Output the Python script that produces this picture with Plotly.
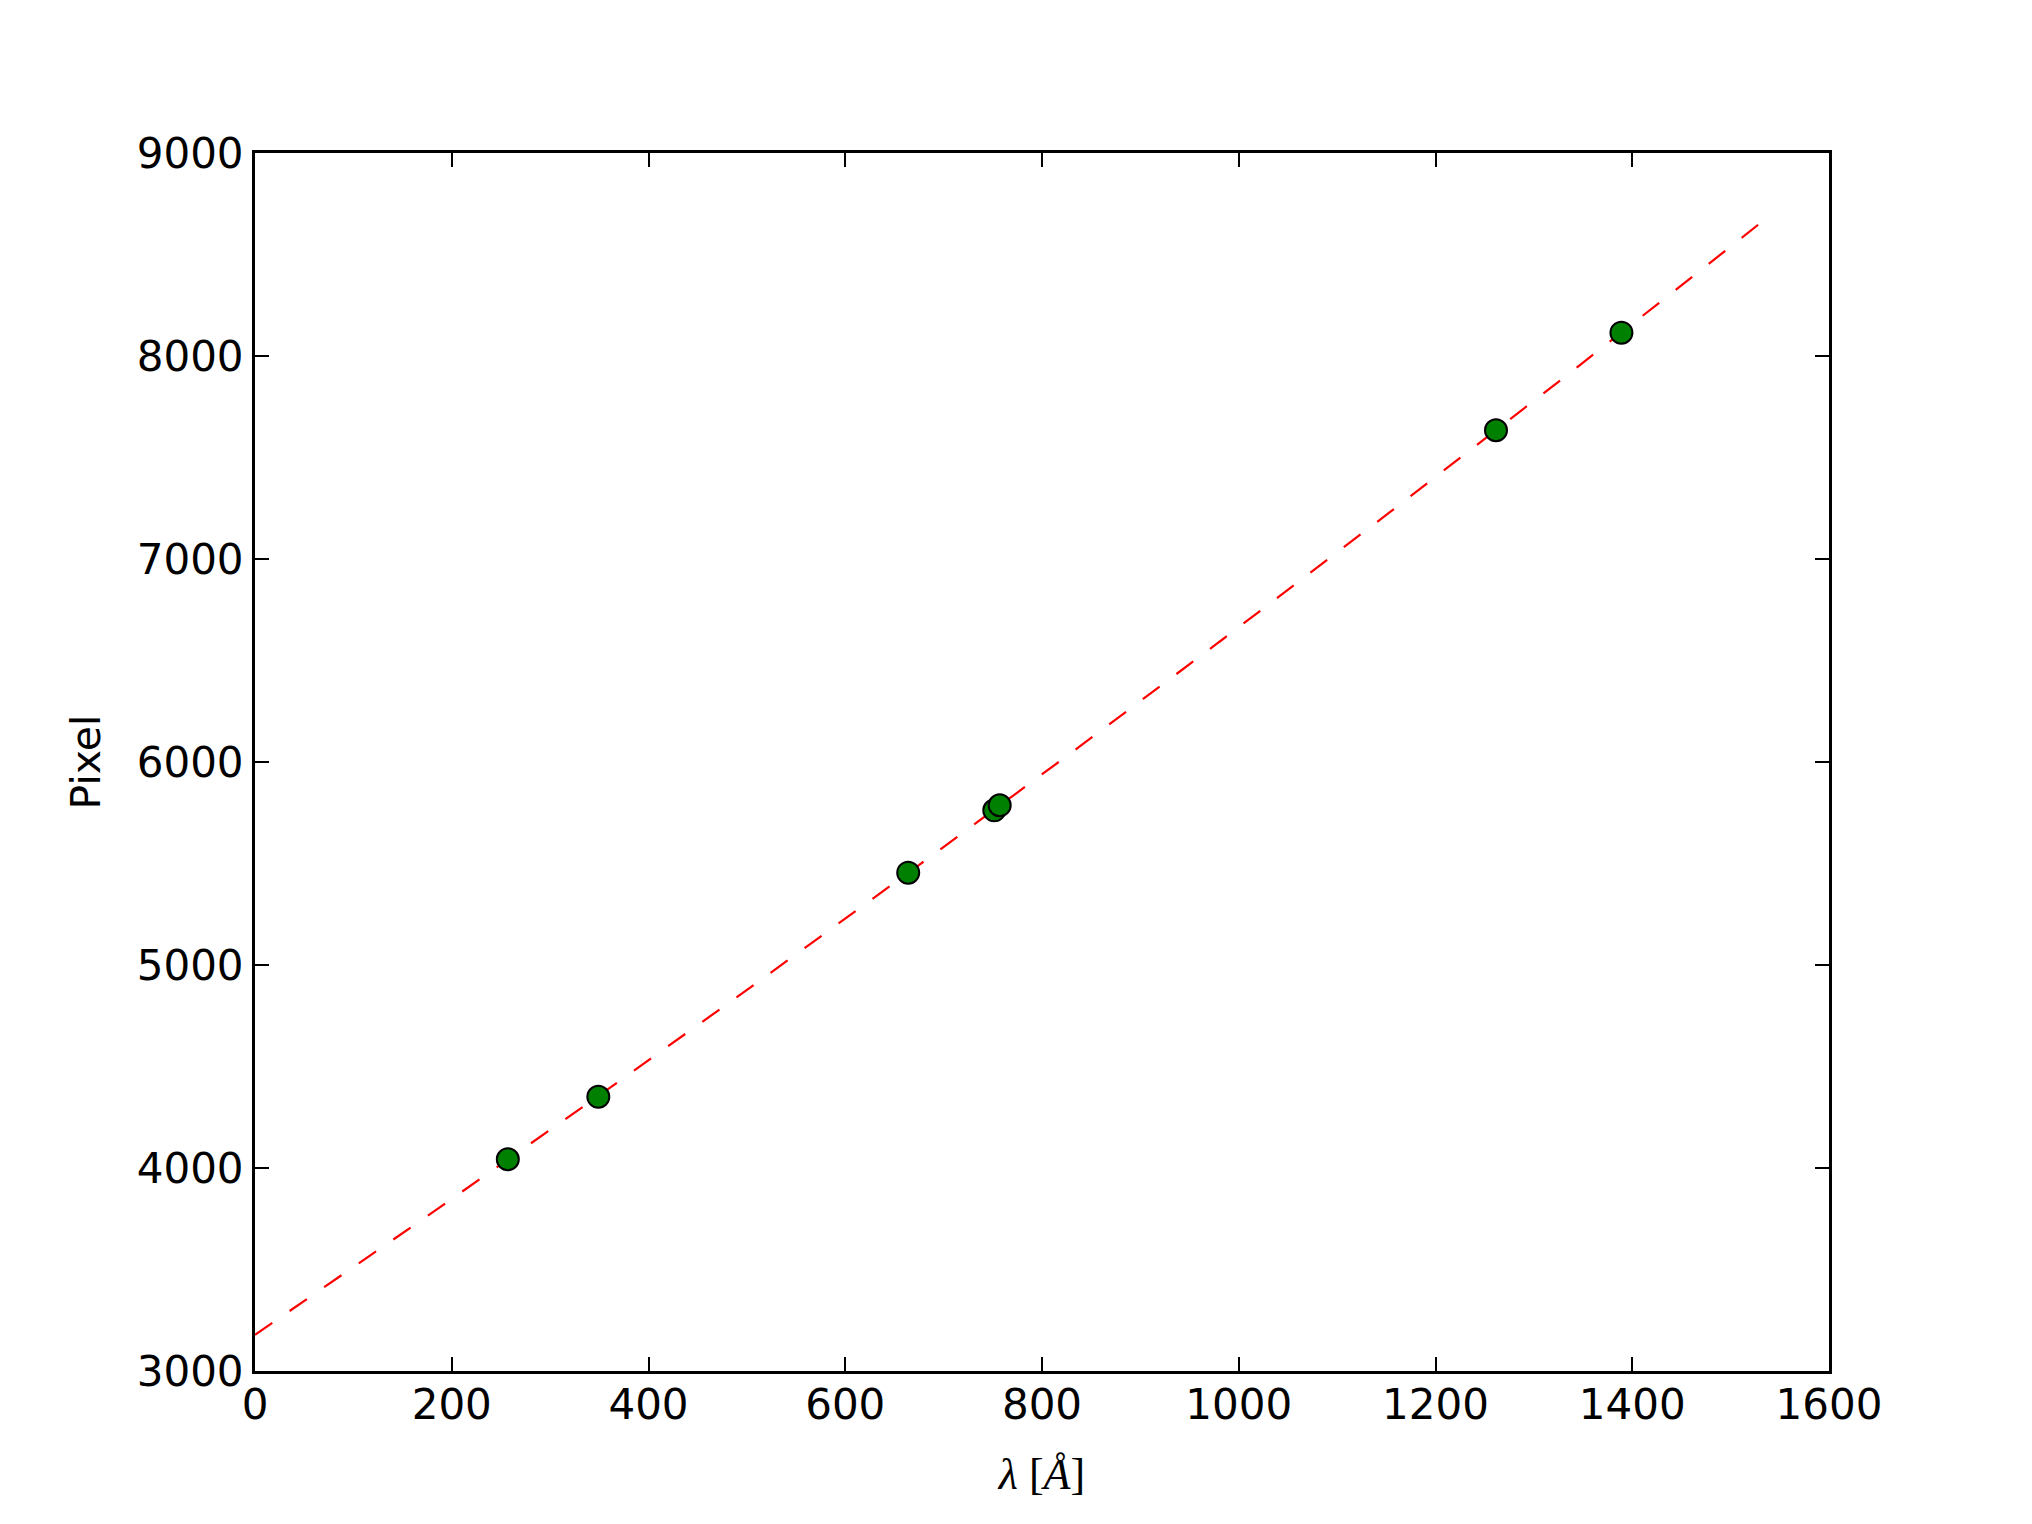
import numpy as np
import plotly.graph_objects as go

# Data
wavelength = [257, 349, 664, 751.5, 757, 1261.5, 1389]
pixel = [4043, 4351, 5455, 5762, 5787, 7634, 8115]

# Fit range
fit_x_min, fit_x_max = 0, 1530
coef = np.polyfit(wavelength, pixel, 2)
fit_x = np.linspace(fit_x_min, fit_x_max, 200)
fit_y = np.polyval(coef, fit_x)

x_ticks = [0, 200, 400, 600, 800, 1000, 1200, 1400, 1600]
y_ticks = [3000, 4000, 5000, 6000, 7000, 8000, 9000]

fig = go.Figure()
fig.add_trace(go.Scatter(
    x=fit_x, y=fit_y, mode="lines",
    line=dict(color="red", width=2.2, dash="21px,21px"),
    showlegend=False, hoverinfo="skip"))
fig.add_trace(go.Scatter(
    x=wavelength, y=pixel, mode="markers",
    marker=dict(size=22, color="#008000", line=dict(color="black", width=2)),
    showlegend=False))

axis_common = dict(
    showline=True, linecolor="black", linewidth=3, mirror="ticks",
    ticks="inside", ticklen=14, tickwidth=2, tickcolor="black",
    showgrid=False, zeroline=False,
    tickfont=dict(family="DejaVu Sans", size=42, color="black"),
)

fig.update_xaxes(
    range=[0, 1600], tickvals=x_ticks, ticktext=[str(v) for v in x_ticks],
    ticklabelstandoff=-5,
    title=dict(text="<i>λ</i> [<i>Å</i>]", standoff=30,
               font=dict(family="Liberation Serif", size=44, color="black")),
    **axis_common)
fig.update_yaxes(
    range=[3000, 9000], tickvals=y_ticks, ticktext=[str(v) for v in y_ticks],
    title=dict(text="Pixel", standoff=24,
               font=dict(family="DejaVu Sans", size=41, color="black")),
    **axis_common)

fig.update_layout(
    width=2032, height=1524,
    margin=dict(l=247, r=211, t=145, b=161, autoexpand=False),
    paper_bgcolor="white", plot_bgcolor="white",
)

fig.write_html("out.html")
